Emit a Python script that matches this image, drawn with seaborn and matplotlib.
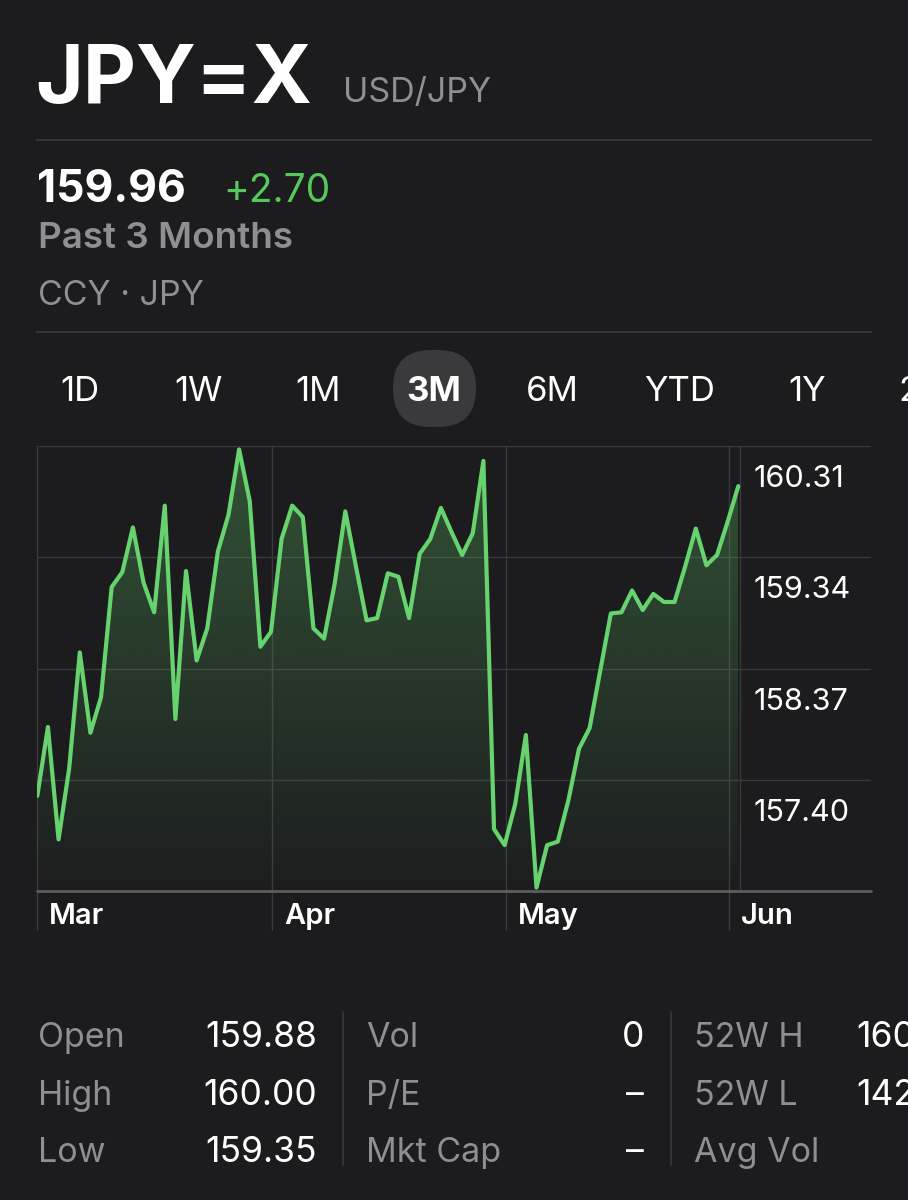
import numpy as np
import pandas as pd
import seaborn as sns
import matplotlib.pyplot as plt
from matplotlib.patches import FancyBboxPatch
from matplotlib.lines import Line2D
from matplotlib.transforms import offset_copy, IdentityTransform

# daily closes, past 3 months
prices = [157.26, 157.86, 156.88, 157.50, 158.51, 157.81, 158.12, 159.08, 159.21, 159.60,
          159.12, 158.86, 159.79, 157.93, 159.22, 158.44, 158.72, 159.39, 159.71, 160.28,
          159.83, 158.56, 158.69, 159.50, 159.79, 159.69, 158.72, 158.63, 159.11, 159.74,
          159.26, 158.79, 158.81, 159.20, 159.17, 158.81, 159.37, 159.50, 159.77, 159.56,
          159.36, 159.55, 160.18, 156.97, 156.83, 157.19, 157.79, 156.46, 156.83, 156.86,
          157.22, 157.67, 157.85, 158.35, 158.85, 158.86, 159.05, 158.88, 159.02, 158.95,
          158.95, 159.26, 159.59, 159.27, 159.36, 159.65, 159.96]
grid_vals = [160.31, 159.34, 158.37, 157.40]
y_floor = 156.43
months = ['Mar', 'Apr', 'May', 'Jun']
month_pos = [0, 22.1, 44.1, 65.1]
tabs = ['1D', '1W', '1M', '3M', '6M', 'YTD', '1Y', '2']
selected_tab = '3M'

stat_labels1 = ['Open', 'High', 'Low']
stat_values1 = ['159.88', '160.00', '159.35']
stat_labels2 = ['Vol', 'P/E', 'Mkt Cap']
stat_values2 = ['0', '–', '–']
stat_labels3 = ['52W H', '52W L', 'Avg Vol']
stat_values3 = ['160', '142', '']

ticker = 'JPY=X'
pair = 'USD/JPY'
last_price = '159.96'
change = '+2.70'

bg = '#1c1c1e'
green = '#66d36e'
green_txt = '#55c95c'
grey = '#8e8e93'
line_c = '#3a3a3c'

sns.set_theme(style='dark', rc={'figure.facecolor': bg, 'axes.facecolor': bg})
plt.rcParams['font.family'] = ['Inter', 'DejaVu Sans']

W, H = 908, 1200
def fx(x):
    return x / W
def fy(y):
    return 1 - y / H

fig = plt.figure(figsize=(W / 100, H / 100), dpi=100)
fig.patch.set_facecolor(bg)

# header
fig.text(fx(35), fy(103), ticker, fontsize=59, fontweight='bold', color='white', va='baseline')
fig.text(fx(343), fy(102), pair, fontsize=24.5, color=grey, va='baseline')
fig.add_artist(Line2D([fx(37), fx(871)], [fy(140), fy(140)], color=line_c, lw=1.3))
fig.text(fx(37), fy(202), last_price, fontsize=32, fontweight='bold', color='white', va='baseline')
fig.text(fx(223), fy(202), change, fontsize=28, color=green_txt, va='baseline')
fig.text(fx(38), fy(248), 'Past 3 Months', fontsize=26.5, fontweight='semibold', color=grey, va='baseline')
fig.text(fx(38), fy(305), 'CCY · JPY', fontsize=24.5, color=grey, va='baseline')
fig.add_artist(Line2D([fx(37), fx(871)], [fy(332), fy(332)], color=line_c, lw=1.3))

# range tabs
tab_x = [79.5, 199, 318, 434, 552, 679.5, 807.5, 909]
pill = FancyBboxPatch((393, H - 427), 83, 77, boxstyle='round,pad=0,rounding_size=38',
                      transform=IdentityTransform(), facecolor='#3a3a3c', edgecolor='none')
fig.add_artist(pill)
for t, x in zip(tabs, tab_x):
    fig.text(fx(x), fy(401), t, fontsize=25, ha='center', va='baseline', color='white',
             fontweight='bold' if t == selected_tab else 'normal')

# chart
ax = fig.add_axes([fx(37), fy(891), (871 - 37) / W, (891 - 446) / H])
ax.set_facecolor(bg)
df = pd.DataFrame({'day': np.arange(len(prices)), 'price': prices})

poly = ax.fill_between(df['day'], df['price'], y_floor, facecolor='none', lw=0)
grad = np.zeros((256, 1, 4))
grad[:, 0, :3] = [0x66 / 255, 0xd3 / 255, 0x6e / 255]
grad[:, 0, 3] = np.linspace(0.30, 0.01, 256)
im = ax.imshow(grad, extent=[0, len(prices) - 1, y_floor, grid_vals[0]], aspect='auto',
               origin='upper', zorder=2)
im.set_clip_path(poly.get_paths()[0], ax.transData)

sns.lineplot(data=df, x='day', y='price', ax=ax, color=green, linewidth=3.0, zorder=5)

ax.set_xlim(-0.03, (871 - 37.3) / 10.621)
ax.set_ylim(y_floor, grid_vals[0])
for v in grid_vals:
    ax.axhline(v, color=line_c, lw=1, zorder=1)
ax.axhline(y_floor, color='#5c5c60', lw=2, zorder=6, clip_on=False)
for p in month_pos:
    ax.plot([p, p], [-0.088, 1], transform=ax.get_xaxis_transform(), clip_on=False,
            color=line_c, lw=1, zorder=1)
ax.plot([66.15, 66.15], [0, 1], transform=ax.get_xaxis_transform(), color=line_c, lw=1, zorder=1)

ytrans = offset_copy(ax.get_yaxis_transform(), fig=fig, x=0, y=-41, units='dots')
for v in grid_vals:
    ax.text(0.859, v, f'{v:.2f}', transform=ytrans, fontsize=22, color='white', va='baseline')
mtrans = offset_copy(ax.get_xaxis_transform(), fig=fig, x=12, y=-33, units='dots')
for m, p in zip(months, month_pos):
    ax.text(p, 0, m, transform=mtrans, fontsize=21, fontweight='semibold', color='white', va='baseline')

ax.set_xticks([])
ax.set_yticks([])
ax.set_xlabel('')
ax.set_ylabel('')
for s in ax.spines.values():
    s.set_visible(False)

# key stats
rows_y = [1047, 1105, 1162]
for i, y in enumerate(rows_y):
    fig.text(fx(38), fy(y), stat_labels1[i], fontsize=24.5, color=grey, va='baseline')
    fig.text(fx(317), fy(y), stat_values1[i], fontsize=25.5, color='white', va='baseline', ha='right')
    fig.text(fx(366), fy(y), stat_labels2[i], fontsize=24.5, color=grey, va='baseline')
    fig.text(fx(644), fy(y), stat_values2[i], fontsize=25.5, color='white', va='baseline', ha='right')
    fig.text(fx(694), fy(y), stat_labels3[i], fontsize=24.5, color=grey, va='baseline')
    fig.text(fx(856), fy(y), stat_values3[i], fontsize=25.5, color='white', va='baseline')
for x in [343, 670.5]:
    fig.add_artist(Line2D([fx(x), fx(x)], [fy(1012), fy(1165)], color=line_c, lw=1.2))

fig.savefig('out.png', dpi=100, facecolor=bg)
